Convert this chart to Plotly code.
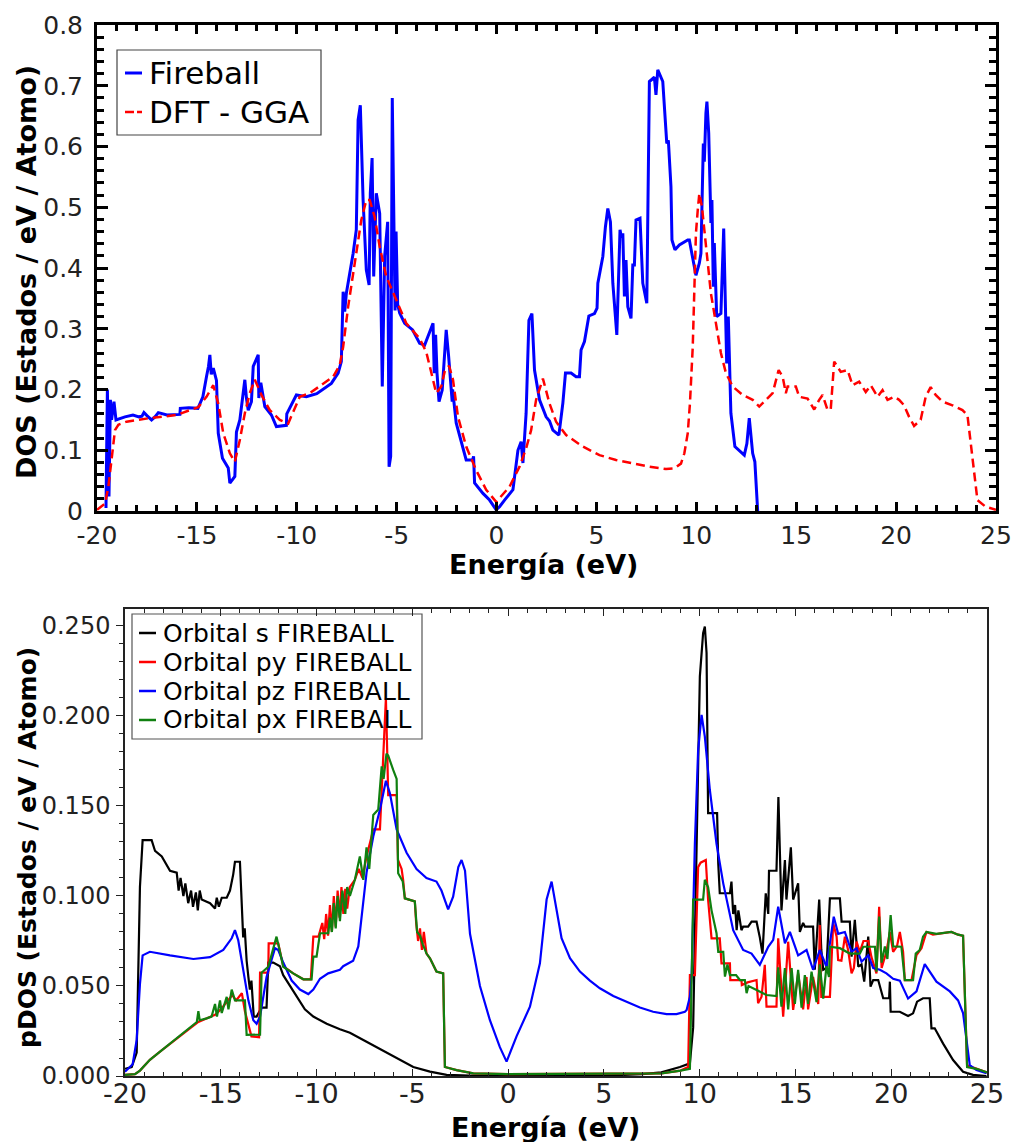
import plotly.graph_objects as go

# ---------------- Total DOS (upper panel) ----------------
fireball_energy = [
    -19.55, -19.48, -19.40, -19.33, -19.27, -19.15, -19.05, -18.60, -18.20, -17.90,
    -17.75, -17.65, -17.50, -17.27, -17.10, -16.93, -16.50, -15.85, -15.83, -15.40,
    -14.95, -14.70, -14.52, -14.42, -14.35, -14.28, -14.18, -14.02, -13.93, -13.72,
    -13.43, -13.35, -13.10, -13.02, -12.85, -12.77, -12.60, -12.52, -12.43, -12.27,
    -12.18, -11.93, -11.90, -11.80, -11.60, -11.27, -11.02, -10.52, -10.50, -10.02,
    -9.52, -9.00, -8.70, -8.27, -7.93, -7.77, -7.68, -7.60, -7.52, -7.18,
    -7.02, -6.93, -6.82, -6.68, -6.52, -6.38, -6.32, -6.23, -6.15, -6.02,
    -5.85, -5.72, -5.60, -5.45, -5.38, -5.30, -5.22, -5.12, -5.08, -5.03,
    -4.95, -4.85, -4.60, -4.20, -3.85, -3.60, -3.27, -3.18, -3.12, -3.05,
    -2.98, -2.88, -2.72, -2.52, -2.40, -2.22, -2.20, -2.02, -1.52, -1.20,
    -1.15, -1.10, -0.68, -0.35, -0.02, 0.15, 0.40, 0.82, 1.07, 1.23,
    1.32, 1.48, 1.62, 1.77, 1.90, 2.15, 2.48, 2.65, 2.82, 3.12,
    3.32, 3.45, 3.73, 3.98, 4.15, 4.23, 4.40, 4.62, 4.90, 5.03,
    5.07, 5.32, 5.45, 5.57, 5.70, 5.82, 6.02, 6.18, 6.25, 6.32,
    6.40, 6.48, 6.57, 6.73, 6.82, 6.90, 6.98, 7.18, 7.32, 7.52,
    7.65, 7.73, 7.90, 7.98, 8.07, 8.32, 8.52, 8.60, 8.73, 8.78,
    8.93, 9.15, 9.57, 9.65, 9.98, 10.15, 10.23, 10.35, 10.40, 10.48,
    10.53, 10.62, 10.68, 10.73, 10.78, 10.85, 10.90, 11.02, 11.23, 11.37,
    11.52, 11.60, 11.73, 11.93, 12.40, 12.53, 12.65, 12.82, 12.93, 13.07,
]
fireball_dos = [
    0.005, 0.200, 0.024, 0.183, 0.150, 0.180, 0.150, 0.155, 0.158, 0.155,
    0.156, 0.162, 0.157, 0.150, 0.155, 0.162, 0.158, 0.159, 0.169, 0.170,
    0.169, 0.188, 0.221, 0.238, 0.257, 0.225, 0.235, 0.215, 0.128, 0.087,
    0.071, 0.046, 0.057, 0.130, 0.150, 0.170, 0.216, 0.186, 0.166, 0.180,
    0.238, 0.257, 0.186, 0.211, 0.172, 0.158, 0.139, 0.141, 0.160, 0.191,
    0.188, 0.193, 0.200, 0.210, 0.227, 0.246, 0.361, 0.328, 0.358, 0.424,
    0.463, 0.644, 0.668, 0.512, 0.397, 0.372, 0.523, 0.581, 0.386, 0.523,
    0.490, 0.205, 0.420, 0.476, 0.073, 0.090, 0.680, 0.460, 0.330, 0.460,
    0.340, 0.326, 0.309, 0.298, 0.276, 0.273, 0.301, 0.309, 0.227, 0.290,
    0.227, 0.180, 0.199, 0.298, 0.255, 0.180, 0.200, 0.145, 0.084, 0.084,
    0.090, 0.046, 0.029, 0.018, 0.002, 0.007, 0.018, 0.035, 0.100, 0.114,
    0.079, 0.161, 0.314, 0.325, 0.232, 0.183, 0.155, 0.148, 0.133, 0.125,
    0.178, 0.227, 0.227, 0.221, 0.221, 0.265, 0.279, 0.321, 0.325, 0.334,
    0.375, 0.419, 0.468, 0.498, 0.476, 0.375, 0.290, 0.463, 0.450, 0.457,
    0.353, 0.413, 0.336, 0.317, 0.405, 0.405, 0.479, 0.482, 0.375, 0.342,
    0.707, 0.709, 0.714, 0.685, 0.726, 0.707, 0.605, 0.610, 0.534, 0.446,
    0.430, 0.438, 0.446, 0.446, 0.388, 0.408, 0.424, 0.605, 0.575, 0.655,
    0.674, 0.622, 0.512, 0.474, 0.512, 0.369, 0.441, 0.320, 0.325, 0.465,
    0.243, 0.320, 0.161, 0.106, 0.092, 0.111, 0.153, 0.095, 0.081, 0.000,
]

gga_energy = [
    -20.00, -19.93, -19.60, -19.43, -19.27, -19.10, -18.93, -18.52, -17.35, -16.02,
    -14.93, -14.52, -14.18, -13.93, -13.68, -13.35, -13.10, -12.85, -12.60, -12.35,
    -12.10, -11.77, -11.35, -10.85, -10.43, -10.18, -9.85, -9.35, -8.85, -8.18,
    -7.85, -7.68, -7.43, -7.18, -6.77, -6.52, -6.35, -6.10, -5.85, -5.52,
    -5.02, -4.52, -3.85, -3.52, -3.18, -3.02, -2.77, -2.60, -2.38, -2.18,
    -1.93, -1.52, -1.02, -0.52, -0.02, 0.15, 0.65, 1.15, 1.48, 1.73,
    1.98, 2.32, 2.65, 2.98, 3.48, 4.32, 5.15, 5.98, 6.82, 7.65,
    8.48, 8.90, 9.23, 9.40, 9.57, 9.68, 9.82, 9.90, 9.98, 10.07,
    10.15, 10.28, 10.40, 10.57, 10.73, 10.90, 11.23, 11.48, 11.82, 12.32,
    12.82, 13.15, 13.48, 13.82, 14.12, 14.32, 14.48, 14.57, 14.98, 15.15,
    15.57, 15.90, 16.15, 16.32, 16.57, 16.73, 16.90, 17.07, 17.23, 17.57,
    17.82, 18.15, 18.48, 18.73, 19.07, 19.32, 19.57, 19.90, 20.15, 20.40,
    20.65, 20.90, 21.23, 21.48, 21.73, 21.98, 22.32, 22.82, 23.32, 23.57,
    23.82, 24.07, 24.48, 24.90, 25.00,
]
gga_dos = [
    0.002, 0.004, 0.012, 0.040, 0.089, 0.133, 0.142, 0.147, 0.153, 0.158,
    0.171, 0.188, 0.207, 0.177, 0.128, 0.095, 0.081, 0.117, 0.161, 0.194,
    0.216, 0.191, 0.166, 0.150, 0.144, 0.163, 0.188, 0.194, 0.205, 0.221,
    0.240, 0.270, 0.336, 0.391, 0.479, 0.512, 0.512, 0.484, 0.435, 0.386,
    0.347, 0.309, 0.284, 0.262, 0.216, 0.194, 0.205, 0.229, 0.239, 0.216,
    0.155, 0.106, 0.067, 0.035, 0.015, 0.021, 0.040, 0.073, 0.103, 0.133,
    0.183, 0.218, 0.177, 0.147, 0.125, 0.106, 0.092, 0.084, 0.078, 0.073,
    0.069, 0.070, 0.078, 0.095, 0.128, 0.177, 0.270, 0.355, 0.457, 0.495,
    0.523, 0.501, 0.463, 0.402, 0.358, 0.325, 0.260, 0.227, 0.205, 0.191,
    0.183, 0.172, 0.183, 0.194, 0.232, 0.221, 0.194, 0.205, 0.205, 0.188,
    0.185, 0.167, 0.183, 0.191, 0.166, 0.168, 0.246, 0.238, 0.229, 0.232,
    0.207, 0.213, 0.196, 0.207, 0.188, 0.199, 0.183, 0.188, 0.183, 0.174,
    0.155, 0.140, 0.150, 0.188, 0.204, 0.191, 0.180, 0.174, 0.166, 0.158,
    0.084, 0.018, 0.007, 0.003, 0.002,
]

# ---------------- Projected DOS (lower panel) ----------------
s_energy = [
    -20.00, -19.65, -19.39, -19.22, -19.08, -18.61, -18.43, -18.08, -17.65, -17.30,
    -17.20, -17.10, -16.95, -16.85, -16.70, -16.55, -16.45, -16.30, -16.20, -16.10,
    -16.00, -15.56, -15.30, -15.21, -15.10, -14.95, -14.69, -14.52, -14.35, -14.26,
    -14.00, -13.91, -13.83, -13.75, -13.65, -13.56, -13.48, -13.40, -13.30, -13.28,
    -13.13, -12.87, -12.61, -12.52, -12.26, -11.91, -11.74, -11.39, -11.04, -10.61,
    -10.17, -9.47, -8.78, -8.26, -7.39, -6.69, -5.82, -4.95, -4.08, -3.21,
    -2.00, 5.00, 7.00, 8.00, 8.97, 9.23, 9.49, 9.66, 9.84, 10.01,
    10.18, 10.27, 10.36, 10.44, 10.91, 10.97, 11.05, 11.58, 11.66, 11.75,
    11.85, 11.93, 12.02, 12.18, 12.27, 12.53, 12.71, 12.97, 13.14, 13.28,
    13.45, 13.58, 13.62, 14.01, 14.11, 14.27, 14.45, 14.53, 14.76, 14.88,
    15.14, 15.23, 15.40, 15.49, 15.92, 16.01, 16.24, 16.35, 16.45, 16.62,
    16.80, 17.32, 17.41, 17.84, 17.93, 18.10, 18.28, 18.45, 18.59, 18.80,
    18.92, 19.06, 19.32, 19.58, 19.89, 19.93, 19.97, 20.45, 20.88, 21.14,
    21.35, 21.66, 22.01, 22.10, 22.27, 22.71, 23.23, 23.75, 24.27, 24.97,
]
s_pdos = [
    0.0040, 0.0050, 0.0130, 0.1050, 0.1310, 0.1310, 0.1250, 0.1220, 0.1140, 0.1130,
    0.1030, 0.1100, 0.1000, 0.1070, 0.0960, 0.1030, 0.0940, 0.1020, 0.0920, 0.1030,
    0.0980, 0.0960, 0.0930, 0.0990, 0.0940, 0.0990, 0.0990, 0.1030, 0.1120, 0.1190,
    0.1190, 0.1000, 0.0770, 0.0820, 0.0640, 0.0550, 0.0480, 0.0530, 0.0380, 0.0330,
    0.0330, 0.0380, 0.0380, 0.0630, 0.0630, 0.0610, 0.0560, 0.0500, 0.0440, 0.0370,
    0.0330, 0.0290, 0.0260, 0.0240, 0.0190, 0.0150, 0.0100, 0.0050, 0.0024, 0.0006,
    0.0002, 0.0002, 0.0010, 0.0020, 0.0050, 0.0060, 0.0070, 0.0270, 0.1290, 0.2220,
    0.2460, 0.2496, 0.2350, 0.1460, 0.1460, 0.1180, 0.1015, 0.1015, 0.1080, 0.0900,
    0.0950, 0.0810, 0.0920, 0.0810, 0.0830, 0.0830, 0.0857, 0.0857, 0.0770, 0.0680,
    0.1015, 0.0900, 0.1140, 0.1140, 0.1550, 0.0920, 0.1200, 0.0980, 0.1270, 0.0980,
    0.1070, 0.0800, 0.0850, 0.0830, 0.0830, 0.0590, 0.0980, 0.0700, 0.0590, 0.0600,
    0.0987, 0.0987, 0.0857, 0.0857, 0.0663, 0.0867, 0.0607, 0.0620, 0.0524, 0.0774,
    0.0496, 0.0533, 0.0533, 0.0432, 0.0432, 0.0524, 0.0357, 0.0357, 0.0333, 0.0348,
    0.0413, 0.0432, 0.0432, 0.0265, 0.0265, 0.0180, 0.0089, 0.0024, 0.0006, 0.0000,
]

py_energy = [
    -20.00, -19.48, -19.22, -18.70, -18.17, -17.65, -17.13, -16.61, -16.17, -15.74,
    -15.30, -15.00, -14.69, -14.40, -14.20, -13.90, -13.74, -13.60, -13.40, -13.00,
    -12.95, -12.52, -12.50, -12.00, -11.74, -11.22, -10.69, -10.30, -10.17, -9.90,
    -9.70, -9.60, -9.50, -9.40, -9.30, -9.20, -9.10, -9.00, -8.90, -8.80,
    -8.70, -8.60, -8.50, -8.40, -8.26, -8.00, -7.80, -7.60, -7.39, -7.20,
    -7.04, -6.69, -6.60, -6.45, -6.38, -6.30, -6.26, -5.82, -5.75, -5.56,
    -5.48, -5.39, -4.87, -4.80, -4.70, -4.60, -4.50, -4.40, -4.26, -4.08,
    -3.74, -3.39, -3.30, -2.69, -1.82, 0.00, 8.00, 9.00, 9.40, 9.49,
    9.75, 9.92, 10.05, 10.32, 10.44, 10.62, 11.05, 11.14, 11.58, 11.60,
    12.18, 12.20, 12.50, 12.97, 13.05, 13.23, 13.40, 13.49, 14.01, 14.10,
    14.36, 14.62, 14.88, 15.14, 15.40, 15.58, 15.66, 15.92, 16.19, 16.27,
    16.35, 16.80, 16.97, 17.15, 17.23, 17.40, 17.58, 17.75, 17.93, 18.05,
    18.19, 18.36, 18.55, 18.80, 18.97, 19.23, 19.37, 19.50, 19.75, 19.93,
    20.10, 20.30, 20.45, 20.62, 20.71, 21.06, 21.32, 21.58, 21.84, 22.18,
    22.71, 23.14, 23.49, 23.75, 23.96, 24.45, 25.00,
]
py_pdos = [
    0.0006, 0.0010, 0.0030, 0.0090, 0.0135, 0.0180, 0.0220, 0.0265, 0.0300, 0.0320,
    0.0340, 0.0370, 0.0410, 0.0450, 0.0420, 0.0460, 0.0360, 0.0300, 0.0220, 0.0215,
    0.0574, 0.0574, 0.0737, 0.0737, 0.0610, 0.0570, 0.0537, 0.0537, 0.0774, 0.0774,
    0.0850, 0.0760, 0.0900, 0.0780, 0.0950, 0.0800, 0.1000, 0.0830, 0.1030, 0.0880,
    0.1050, 0.0900, 0.1040, 0.0930, 0.1050, 0.1090, 0.1150, 0.1100, 0.1220, 0.1300,
    0.1370, 0.1370, 0.1600, 0.1900, 0.2100, 0.1750, 0.1560, 0.1560, 0.1200, 0.1150,
    0.1090, 0.0987, 0.0970, 0.0850, 0.0750, 0.0820, 0.0700, 0.0800, 0.0680, 0.0654,
    0.0580, 0.0570, 0.0050, 0.0033, 0.0015, 0.0010, 0.0015, 0.0030, 0.0050, 0.0560,
    0.0560, 0.1160, 0.1185, 0.1200, 0.0980, 0.0765, 0.0765, 0.0626, 0.0626, 0.0533,
    0.0533, 0.0505, 0.0520, 0.0533, 0.0404, 0.0440, 0.0617, 0.0385, 0.0385, 0.0765,
    0.0330, 0.0746, 0.0367, 0.0570, 0.0370, 0.0550, 0.0370, 0.0550, 0.0400, 0.0839,
    0.0440, 0.0440, 0.0848, 0.0774, 0.0644, 0.0640, 0.0774, 0.0700, 0.0570, 0.0600,
    0.0746, 0.0690, 0.0750, 0.0750, 0.0660, 0.0570, 0.0940, 0.0600, 0.0690, 0.0800,
    0.0690, 0.0720, 0.0800, 0.0690, 0.0533, 0.0533, 0.0672, 0.0710, 0.0800, 0.0785,
    0.0793, 0.0800, 0.0785, 0.0778, 0.0060, 0.0043, 0.0020,
]

pz_energy = [
    -20.00, -19.60, -19.39, -19.22, -19.08, -18.70, -17.65, -16.43, -15.56, -14.87,
    -14.43, -14.26, -14.09, -13.83, -13.56, -13.30, -13.13, -12.95, -12.61, -12.17,
    -12.00, -11.74, -11.30, -10.87, -10.43, -10.17, -9.82, -9.39, -8.78, -8.61,
    -8.09, -7.82, -7.65, -7.39, -7.04, -6.69, -6.38, -6.17, -5.82, -5.30,
    -4.78, -4.26, -3.74, -3.48, -3.13, -2.87, -2.60, -2.43, -2.25, -1.99,
    -1.47, -0.95, -0.43, -0.08, 0.44, 1.14, 1.66, 2.01, 2.27, 2.53,
    2.79, 3.23, 3.75, 4.27, 4.79, 5.49, 6.18, 6.88, 7.57, 8.27,
    8.79, 9.23, 9.32, 9.49, 9.58, 9.75, 9.92, 10.10, 10.27, 10.53,
    10.88, 11.23, 11.75, 12.27, 12.71, 13.14, 13.58, 13.84, 14.10, 14.45,
    14.71, 15.14, 15.58, 15.92, 16.27, 16.62, 17.00, 17.23, 17.58, 17.93,
    18.19, 18.45, 18.80, 19.06, 19.41, 19.75, 20.10, 20.45, 20.88, 21.32,
    21.75, 22.01, 22.36, 23.06, 23.49, 23.75, 23.93, 24.10, 24.45, 24.97,
]
pz_pdos = [
    0.0024, 0.0065, 0.0200, 0.0510, 0.0670, 0.0690, 0.0670, 0.0650, 0.0660, 0.0700,
    0.0765, 0.0810, 0.0755, 0.0590, 0.0420, 0.0310, 0.0290, 0.0330, 0.0550, 0.0710,
    0.0700, 0.0630, 0.0530, 0.0480, 0.0455, 0.0480, 0.0540, 0.0570, 0.0590, 0.0610,
    0.0640, 0.0720, 0.0885, 0.1130, 0.1330, 0.1480, 0.1640, 0.1570, 0.1370, 0.1240,
    0.1150, 0.1100, 0.1080, 0.1030, 0.0926, 0.0996, 0.1160, 0.1200, 0.1140, 0.0790,
    0.0500, 0.0310, 0.0160, 0.0080, 0.0220, 0.0385, 0.0626, 0.0980, 0.1080, 0.0920,
    0.0765, 0.0654, 0.0580, 0.0530, 0.0487, 0.0444, 0.0413, 0.0380, 0.0357, 0.0344,
    0.0344, 0.0357, 0.0367, 0.0440, 0.0550, 0.1290, 0.1810, 0.2006, 0.1885, 0.1590,
    0.1290, 0.1070, 0.0810, 0.0700, 0.0680, 0.0617, 0.0718, 0.0756, 0.0940, 0.0737,
    0.0800, 0.0670, 0.0700, 0.0590, 0.0700, 0.0607, 0.0885, 0.0790, 0.0800, 0.0690,
    0.0710, 0.0635, 0.0670, 0.0600, 0.0590, 0.0570, 0.0540, 0.0530, 0.0430, 0.0470,
    0.0622, 0.0580, 0.0524, 0.0470, 0.0420, 0.0350, 0.0200, 0.0060, 0.0033, 0.0015,
]

px_energy = [
    -20.00, -19.48, -19.22, -18.70, -18.17, -17.65, -17.13, -16.61, -16.25, -16.17,
    -16.10, -15.74, -15.48, -15.30, -15.20, -15.04, -14.95, -14.69, -14.60, -14.43,
    -14.26, -13.74, -13.65, -12.95, -12.87, -12.52, -12.09, -11.91, -11.74, -11.22,
    -10.69, -10.26, -10.17, -10.00, -9.82, -9.39, -9.30, -9.20, -9.10, -9.00,
    -8.90, -8.78, -8.65, -8.50, -8.40, -8.26, -8.00, -7.74, -7.56, -7.39,
    -7.25, -7.04, -6.78, -6.60, -6.50, -6.35, -6.26, -6.00, -5.82, -5.74,
    -5.50, -5.39, -4.87, -4.75, -4.60, -4.45, -4.26, -4.08, -3.74, -3.39,
    -3.30, -2.69, -1.82, 0.00, 8.00, 9.00, 9.49, 9.66, 10.18, 10.27,
    10.44, 10.62, 10.88, 10.97, 11.23, 11.32, 11.45, 11.58, 11.90, 12.10,
    12.36, 12.45, 12.55, 12.97, 13.49, 14.01, 14.10, 14.27, 14.45, 14.62,
    14.80, 14.97, 15.14, 15.32, 15.49, 15.66, 15.84, 16.10, 16.27, 16.45,
    16.62, 16.75, 16.80, 17.32, 17.84, 18.36, 18.54, 19.15, 19.23, 19.37,
    19.50, 19.67, 19.80, 19.97, 20.10, 20.53, 20.71, 21.14, 21.28, 21.49,
    21.66, 21.84, 22.36, 23.14, 23.49, 23.75, 23.96, 24.45, 25.00,
]
px_pdos = [
    0.0006, 0.0010, 0.0030, 0.0090, 0.0135, 0.0180, 0.0220, 0.0265, 0.0300, 0.0360,
    0.0310, 0.0320, 0.0330, 0.0400, 0.0330, 0.0420, 0.0350, 0.0440, 0.0370, 0.0480,
    0.0420, 0.0420, 0.0228, 0.0230, 0.0574, 0.0607, 0.0774, 0.0690, 0.0607, 0.0570,
    0.0537, 0.0537, 0.0663, 0.0663, 0.0793, 0.0793, 0.0880, 0.0800, 0.0960, 0.0820,
    0.1000, 0.0860, 0.1030, 0.0900, 0.1050, 0.1000, 0.1090, 0.1220, 0.1090, 0.1270,
    0.1150, 0.1450, 0.1480, 0.1720, 0.1650, 0.1790, 0.1780, 0.1700, 0.1650, 0.1126,
    0.1080, 0.0987, 0.0970, 0.0800, 0.0780, 0.0730, 0.0680, 0.0654, 0.0580, 0.0570,
    0.0050, 0.0033, 0.0015, 0.0010, 0.0015, 0.0030, 0.0040, 0.0980, 0.0980, 0.1090,
    0.1050, 0.0920, 0.0793, 0.0690, 0.0690, 0.0552, 0.0620, 0.0560, 0.0560, 0.0533,
    0.0533, 0.0460, 0.0500, 0.0478, 0.0450, 0.0444, 0.0604, 0.0385, 0.0600, 0.0370,
    0.0600, 0.0400, 0.0590, 0.0380, 0.0560, 0.0400, 0.0580, 0.0410, 0.0620, 0.0430,
    0.0610, 0.0550, 0.0718, 0.0710, 0.0680, 0.0680, 0.0718, 0.0718, 0.0580, 0.0885,
    0.0630, 0.0720, 0.0650, 0.0894, 0.0720, 0.0718, 0.0533, 0.0533, 0.0680, 0.0700,
    0.0774, 0.0800, 0.0790, 0.0800, 0.0785, 0.0780, 0.0050, 0.0040, 0.0020,
]

# ---------------- Tick labels ----------------
energy_ticks = [-20, -15, -10, -5, 0, 5, 10, 15, 20, 25]
energy_ticktext = ["-20", "-15", "-10", "-5", "0", "5", "10", "15", "20", "25"]
dos_ticks = [0, 0.1, 0.2, 0.3, 0.4, 0.5, 0.6, 0.7, 0.8]
dos_ticktext = ["0", "0.1", "0.2", "0.3", "0.4", "0.5", "0.6", "0.7", "0.8"]
pdos_ticks = [0, 0.05, 0.10, 0.15, 0.20, 0.25]
pdos_ticktext = ["0.000", "0.050", "0.100", "0.150", "0.200", "0.250"]

top_legend = [("Fireball", "#0000ff", "solid"), ("DFT - GGA", "#ff0000", "dash")]
bottom_legend = [
    ("Orbital s FIREBALL", "#000000"),
    ("Orbital py FIREBALL", "#ff0000"),
    ("Orbital pz FIREBALL", "#0000ff"),
    ("Orbital px FIREBALL", "#108010"),
]

W, H = 1013, 1142
FONT = "DejaVu Sans"
TXT = "#222222"


def fx(px):
    return px / W


def fy(py):
    return 1 - py / H


fig = go.Figure()

# upper panel
fig.add_trace(go.Scatter(x=fireball_energy, y=fireball_dos, mode="lines",
                         line=dict(color="#0000ff", width=3), xaxis="x", yaxis="y",
                         showlegend=False))
fig.add_trace(go.Scatter(x=gga_energy, y=gga_dos, mode="lines",
                         line=dict(color="#ff0000", width=2.5, dash="9px,5px"),
                         xaxis="x", yaxis="y", showlegend=False))

# lower panel
for xs, ys, col in [(s_energy, s_pdos, "#000000"), (py_energy, py_pdos, "#ff0000"),
                    (pz_energy, pz_pdos, "#0000ff"), (px_energy, px_pdos, "#108010")]:
    fig.add_trace(go.Scatter(x=xs, y=ys, mode="lines", line=dict(color=col, width=2.2),
                             xaxis="x2", yaxis="y2", showlegend=False))

top_dom_x = [fx(97), fx(996)]
top_dom_y = [fy(511), fy(25)]
bot_dom_x = [fx(125), fx(987)]
bot_dom_y = [fy(1076), fy(609)]

fig.update_layout(
    template="none",
    width=W, height=H,
    margin=dict(l=0, r=0, t=0, b=0, pad=0),
    paper_bgcolor="white", plot_bgcolor="white",
    font=dict(family=FONT, color=TXT),
    showlegend=False,
    xaxis=dict(domain=top_dom_x, anchor="y", range=[-20, 25], automargin=False,
               tickmode="array", tickvals=energy_ticks, ticktext=energy_ticktext,
               ticks="inside", ticklen=9, tickwidth=2.5, tickcolor="black",
               mirror="ticks", showline=True, linewidth=3, linecolor="black",
               showgrid=False, zeroline=False, tickfont=dict(size=25, color=TXT),
               ticklabelstandoff=0,
               minor=dict(dtick=1, tick0=0, ticks="inside", ticklen=6, tickwidth=2.5,
                          tickcolor="black", showgrid=False)),
    yaxis=dict(domain=top_dom_y, anchor="x", range=[0, 0.8], automargin=False,
               tickmode="array", tickvals=dos_ticks, ticktext=dos_ticktext,
               ticks="inside", ticklen=11, tickwidth=2.5, tickcolor="black",
               mirror="ticks", showline=True, linewidth=3, linecolor="black",
               showgrid=False, zeroline=False, tickfont=dict(size=25, color=TXT),
               ticklabelstandoff=6,
               minor=dict(dtick=0.02, tick0=0, ticks="inside", ticklen=7, tickwidth=2.5,
                          tickcolor="black", showgrid=False)),
    xaxis2=dict(domain=bot_dom_x, anchor="y2", range=[-20, 25], automargin=False,
                tickmode="array", tickvals=energy_ticks, ticktext=energy_ticktext,
                ticks="inside", ticklen=7, tickwidth=1.3, tickcolor="#222",
                mirror="ticks", showline=True, linewidth=1.5, linecolor="#222",
                showgrid=False, zeroline=False, tickfont=dict(size=27, color=TXT),
                ticklabelstandoff=-7,
                minor=dict(dtick=1, tick0=0, ticks="inside", ticklen=4, tickwidth=1.2,
                           tickcolor="#222", showgrid=False)),
    yaxis2=dict(domain=bot_dom_y, anchor="x2", range=[0, 0.2594], automargin=False,
                tickmode="array", tickvals=pdos_ticks, ticktext=pdos_ticktext,
                ticks="outside", ticklen=7, tickwidth=1.3, tickcolor="#222",
                mirror=True, showline=True, linewidth=1.5, linecolor="#222",
                showgrid=False, zeroline=False, tickfont=dict(size=24, color=TXT),
                ticklabelstandoff=1,
                minor=dict(dtick=0.01, tick0=0, ticks="outside", ticklen=4, tickwidth=1.2,
                           tickcolor="#222", showgrid=False)),
    yaxis3=dict(overlaying="y2", side="right", anchor="x2", range=[0, 0.2594],
                automargin=False,
                tickmode="array", tickvals=pdos_ticks, showticklabels=False,
                ticks="inside", ticklen=7, tickwidth=1.3, tickcolor="#222",
                showline=False, showgrid=False, zeroline=False,
                minor=dict(dtick=0.01, tick0=0, ticks="inside", ticklen=4.5, tickwidth=1.2,
                           tickcolor="#222", showgrid=False)),
)

shapes = []
annotations = []

# axis titles
annotations.append(dict(text="<b>Energía (eV)</b>", x=fx(543), y=fy(564), xref="paper", yref="paper",
                        showarrow=False, xanchor="center", yanchor="middle",
                        font=dict(size=27, color="black")))
annotations.append(dict(text="<b>DOS (Estados / eV / Atomo)</b>", x=fx(26), y=fy(272),
                        xref="paper", yref="paper", showarrow=False, textangle=-90,
                        xanchor="center", yanchor="middle", font=dict(size=27, color="black")))
annotations.append(dict(text="<b>Energía (eV)</b>", x=fx(545), y=fy(1127), xref="paper", yref="paper",
                        showarrow=False, xanchor="center", yanchor="middle",
                        font=dict(size=27, color="black")))
annotations.append(dict(text="<b>pDOS (Estados / eV / Atomo)</b>", x=fx(28), y=fy(848),
                        xref="paper", yref="paper", showarrow=False, textangle=-90,
                        xanchor="center", yanchor="middle", font=dict(size=25, color="black")))

# upper legend
shapes.append(dict(type="rect", xref="paper", yref="paper", x0=fx(117), x1=fx(321),
                   y0=fy(135), y1=fy(50), line=dict(color="#444", width=1.2), fillcolor="white",
                   layer="above"))
for i, (name, col, dash) in enumerate(top_legend):
    yc = 73 + 39 * i
    shapes.append(dict(type="line", xref="paper", yref="paper", x0=fx(125), x1=fx(142),
                       y0=fy(yc), y1=fy(yc), layer="above",
                       line=dict(color=col, width=3 if dash == "solid" else 2.5,
                                 dash="solid" if dash == "solid" else "9px,3px")))
    annotations.append(dict(text=name, x=fx(147), y=fy(yc), xref="paper", yref="paper",
                            showarrow=False, xanchor="left", yanchor="middle",
                            font=dict(size=31, color="black")))

# lower legend (drawn beneath the curves, which cross it)
shapes.append(dict(type="rect", xref="paper", yref="paper", x0=fx(132), x1=fx(422),
                   y0=fy(739), y1=fy(614), line=dict(color="#555", width=1.2), fillcolor="white",
                   layer="below"))
for i, (name, col) in enumerate(bottom_legend):
    yc = 633 + 29 * i
    shapes.append(dict(type="line", xref="paper", yref="paper", x0=fx(139), x1=fx(156),
                       y0=fy(yc), y1=fy(yc), layer="above", line=dict(color=col, width=2.5)))
    annotations.append(dict(text=name, x=fx(161), y=fy(yc), xref="paper", yref="paper",
                            showarrow=False, xanchor="left", yanchor="middle",
                            font=dict(size=25, color="black")))

fig.update_layout(shapes=shapes, annotations=annotations)

fig.write_html("out.html")
